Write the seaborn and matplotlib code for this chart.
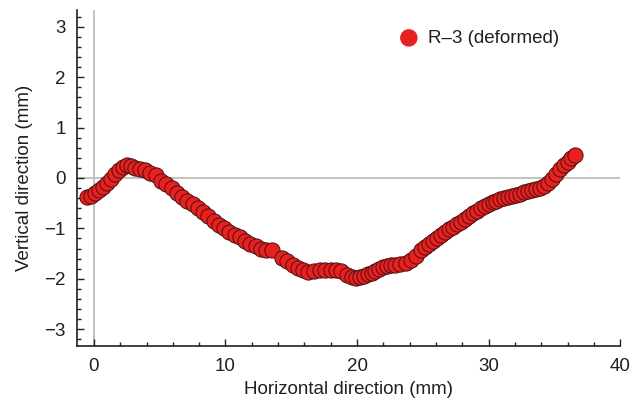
import matplotlib
matplotlib.use("Agg")
import matplotlib.pyplot as plt
from matplotlib.ticker import MultipleLocator
import seaborn as sns
import pandas as pd

horizontal_mm = [-0.5, -0.2, 0.1, 0.4, 0.7, 1.0, 1.3, 1.6, 1.9, 2.2, 2.5, 2.8, 3.1, 3.5, 3.9,
                 4.3, 4.7, 5.1, 5.5, 5.9, 6.3, 6.7, 7.1, 7.5, 7.9, 8.3, 8.7, 9.1, 9.5, 9.9,
                 10.3, 10.7, 11.1, 11.5, 11.9, 12.3, 12.7, 13.1, 13.5, 14.3, 14.7, 15.1, 15.5,
                 15.9, 16.3, 16.7, 17.2, 17.6, 18.0, 18.4, 18.8, 19.2, 19.6, 19.9, 20.2, 20.5,
                 20.8, 21.1, 21.4, 21.7, 22.0, 22.3, 22.6, 22.9, 23.3, 23.7, 24.1, 24.5, 24.9,
                 25.2, 25.5, 25.8, 26.1, 26.4, 26.7, 27.0, 27.3, 27.6, 27.9, 28.2, 28.5, 28.8,
                 29.1, 29.4, 29.7, 30.0, 30.3, 30.6, 30.9, 31.2, 31.5, 31.8, 32.1, 32.4, 32.7,
                 33.0, 33.3, 33.6, 33.9, 34.2, 34.5, 34.8, 35.1, 35.4, 35.7, 36.0, 36.3, 36.6]
vertical_mm = [-0.38, -0.35, -0.30, -0.24, -0.18, -0.10, -0.02, 0.07, 0.15, 0.22, 0.25, 0.24,
               0.20, 0.18, 0.15, 0.10, 0.05, -0.05, -0.12, -0.20, -0.30, -0.38, -0.45, -0.52,
               -0.60, -0.68, -0.76, -0.85, -0.93, -1.00, -1.07, -1.13, -1.18, -1.24, -1.30,
               -1.35, -1.40, -1.43, -1.42, -1.58, -1.65, -1.72, -1.78, -1.83, -1.86, -1.85,
               -1.83, -1.82, -1.82, -1.83, -1.85, -1.93, -1.97, -1.98, -1.96, -1.94, -1.91,
               -1.88, -1.85, -1.80, -1.77, -1.74, -1.72, -1.72, -1.71, -1.68, -1.62, -1.55,
               -1.42, -1.36, -1.30, -1.25, -1.20, -1.14, -1.07, -1.02, -0.97, -0.92, -0.87,
               -0.82, -0.76, -0.70, -0.65, -0.60, -0.56, -0.52, -0.48, -0.45, -0.42, -0.39,
               -0.37, -0.35, -0.33, -0.31, -0.28, -0.26, -0.24, -0.22, -0.20, -0.15, -0.10,
               -0.02, 0.08, 0.18, 0.25, 0.32, 0.40, 0.46]
series_label = "R\u20133 (deformed)"
x_label = "Horizontal direction (mm)"
y_label = "Vertical direction (mm)"

df = pd.DataFrame({"x": horizontal_mm, "y": vertical_mm})

sns.set_theme(style="ticks")
plt.rcParams["font.family"] = ["Liberation Sans", "DejaVu Sans"]

fig = plt.figure(figsize=(6.4, 4.05), dpi=100)
ax = fig.add_axes([0.12, 0.146, 0.849, 0.829])

ax.axhline(0, color="#bdbdbd", lw=1.3, zorder=0)
ax.axvline(0, color="#bdbdbd", lw=1.3, zorder=0)

sns.scatterplot(data=df, x="x", y="y", ax=ax, s=120, color="#e8201f",
                edgecolor="#4a1010", linewidth=0.7, label=series_label, zorder=3)

ax.set_xlim(-1.3, 40)
ax.set_ylim(-3.33, 3.33)
ax.xaxis.set_major_locator(MultipleLocator(10))
ax.xaxis.set_minor_locator(MultipleLocator(2))
ax.yaxis.set_major_locator(MultipleLocator(1))
ax.yaxis.set_minor_locator(MultipleLocator(0.2))
ax.tick_params(which="both", direction="in", color="#231f20", width=1.0,
               labelsize=13.5, labelcolor="#231f20")
ax.tick_params(which="major", length=5)
ax.tick_params(which="minor", length=3)
ax.tick_params(axis="x", which="major", pad=9)
ax.tick_params(axis="y", which="major", pad=8)
for s in ["top", "right"]:
    ax.spines[s].set_visible(False)
for s in ["left", "bottom"]:
    ax.spines[s].set_color("#231f20")
    ax.spines[s].set_linewidth(1.2)

ax.set_xlabel(x_label, fontsize=13.5, color="#231f20", labelpad=4)
ax.set_ylabel(y_label, fontsize=13.5, color="#231f20", labelpad=8)

leg = ax.legend(loc="upper right", bbox_to_anchor=(0.918, 0.992), frameon=False,
                fontsize=13.5, handletextpad=0.0, markerscale=1.15)
for t in leg.get_texts():
    t.set_color("#231f20")
for h in leg.legend_handles:
    h.set_edgecolor("none")

fig.savefig("out.png", dpi=100)
